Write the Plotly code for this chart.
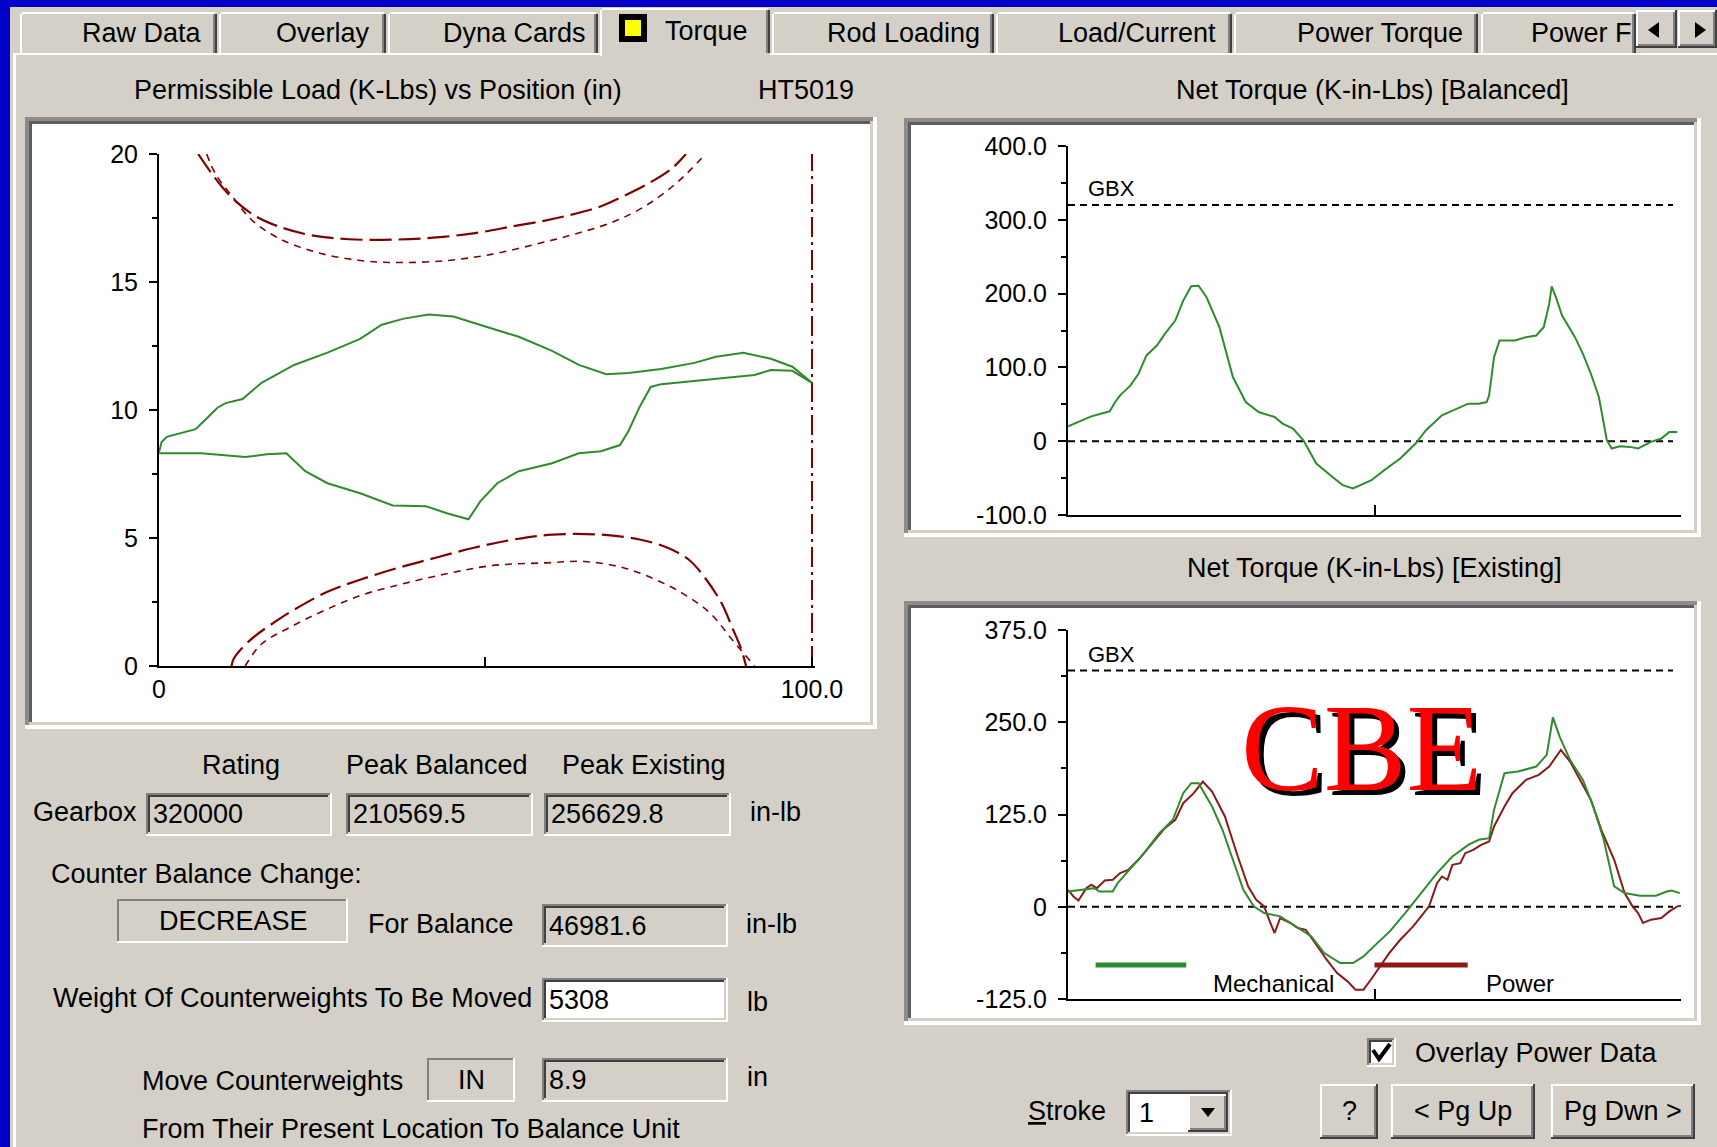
import plotly.graph_objects as go

W, H = 1717, 1147
UI_FONT = "Liberation Sans, Arial, sans-serif"
FONT = "Liberation Sans, Arial, sans-serif"
SERIF = "Liberation Serif, Times New Roman, serif"
FACE = "#D4D0C8"
DESKTOP = "#0000C8"
GREEN = "#2E8B2E"
MAROON = "#800000"
POWER_RED = "#8B1A1A"

# ---------------- data ----------------
# Dynamometer card: load (K-lbs) vs polished-rod position (in)
card_up_pos = [0, 0.4, 1.2, 5.6, 6.9, 9.0, 10.2, 12.8, 15.7, 20.7, 25.8, 30.8, 34.1, 37.5, 41.3,
               45.1, 50.1, 55.1, 60.2, 64.3, 68.5, 71.9, 76.9, 82.0, 85.3, 89.5, 93.7, 97.0, 100]
card_up_load = [8.35, 8.75, 8.95, 9.25, 9.57, 10.1, 10.27, 10.43, 11.06, 11.76, 12.24, 12.78, 13.33,
                13.57, 13.73, 13.65, 13.25, 12.86, 12.31, 11.76, 11.4, 11.45, 11.6, 11.84, 12.08,
                12.24, 12.0, 11.69, 11.06]
card_dn_pos = [0, 6.5, 13.2, 16.5, 19.5, 22.4, 25.8, 30.8, 35.8, 40.9, 44.2, 47.4, 49.2, 51.8, 55.1,
               60.2, 64.3, 67.7, 70.6, 71.9, 73.6, 75.3, 76.9, 82.0, 87.8, 91.2, 93.7, 97.0, 100]
card_dn_load = [8.31, 8.31, 8.16, 8.27, 8.31, 7.61, 7.14, 6.75, 6.27, 6.24, 5.96, 5.73, 6.43, 7.14,
                7.61, 7.92, 8.31, 8.39, 8.63, 9.18, 10.12, 10.9, 11.01, 11.14, 11.29, 11.37, 11.56,
                11.53, 11.06]

# Permissible load envelope (gearbox limits)
max_load_pos = [6.0, 7.7, 9.8, 11.9, 14.8, 18.2, 23.2, 29.1, 36.7, 42.5, 48.4, 54.3, 59.3, 63.5,
                67.7, 71.1, 75.3, 78.6, 80.7]
max_load = [20.0, 19.37, 18.67, 18.12, 17.57, 17.18, 16.83, 16.67, 16.66, 16.74, 16.91, 17.18,
            17.41, 17.65, 17.96, 18.35, 18.9, 19.45, 20.0]
max_load_bal_pos = [7.3, 8.7, 11.2, 14.3, 18.4, 24.1, 30.8, 36.7, 44.2, 50.9, 57.6, 63.5, 69.4,
                    74.4, 79.4, 83.7]
max_load_bal = [20.0, 19.2, 18.35, 17.4, 16.7, 16.16, 15.84, 15.76, 15.84, 16.08, 16.47, 16.86,
                17.33, 17.96, 18.9, 20.0]
min_load_pos = [11.1, 11.5, 14.0, 17.8, 20.7, 25.8, 30.8, 36.7, 42.5, 48.4, 54.3, 60.2, 67.7, 73.6,
                77.8, 81.1, 83.6, 86.2, 87.8, 89.1, 89.9]
min_load = [0.0, 0.31, 1.02, 1.73, 2.2, 2.9, 3.37, 3.84, 4.24, 4.63, 4.94, 5.13, 5.13, 4.94, 4.63,
            4.16, 3.45, 2.43, 1.49, 0.71, 0.0]
min_load_bal_pos = [13.2, 15.7, 19.9, 24.9, 30.8, 37.5, 44.2, 50.9, 59.3, 65.2, 71.1, 76.1, 80.3,
                    84.5, 87.8, 91.2]
min_load_bal = [0.0, 0.86, 1.49, 2.12, 2.75, 3.22, 3.61, 3.92, 4.03, 4.08, 3.84, 3.37, 2.82, 2.04,
                1.02, 0.0]
stroke_length = 100.0
load_axis_max = 20

# Net torque (K-in-lbs) vs percent of stroke
bal_pct = [0, 3.0, 3.8, 6.8, 7.7, 8.5, 10.2, 11.5, 12.8, 14.5, 15.8, 17.5, 18.8, 20.1, 21.3, 22.6,
           24.7, 26.9, 29.0, 31.1, 33.7, 35.0, 36.7, 38.4, 40.5, 43.1, 44.8, 46.5, 48.2, 49.5, 51.6,
           54.2, 56.7, 58.4, 61.0, 63.6, 65.3, 67.0, 68.3, 68.7, 69.5, 70.4, 72.9, 74.7, 76.4, 77.6,
           78.5, 78.9, 79.6, 80.6, 82.7, 84.0, 85.3, 86.6, 87.9, 88.7, 90.0, 91.7, 93.0, 95.1, 96.8,
           98.1, 99.4]
bal_torque = [20.2, 30.6, 33.7, 40.5, 53.1, 62.1, 75.6, 91.4, 116.2, 129.7, 145.5, 163.5, 190.5,
              209.9, 210.5695, 195.0, 154.5, 86.9, 53.1, 39.6, 32.8, 23.8, 17.1, 1.3, -30.2, -48.2,
              -59.5, -64.0, -57.3, -52.8, -39.2, -23.5, -3.2, 14.9, 35.1, 44.1, 50.9, 50.9, 53.1,
              62.1, 113.9, 136.5, 136.5, 141.0, 143.2, 154.5, 186.0, 209.8, 195.0, 170.2, 141.0,
              118.4, 91.4, 59.9, 1.3, -9.9, -6.8, -7.7, -9.9, -0.9, 3.6, 12.6, 12.6]

mech_pct = [0, 2.6, 4.3, 5.1, 7.3, 8.1, 9.8, 12.4, 14.9, 17.1, 18.8, 20.1, 21.3, 23.5, 25.2, 26.9,
            28.6, 30.3, 32.0, 34.6, 37.1, 39.7, 41.8, 44.4, 46.5, 48.2, 49.9, 52.5, 55.0, 57.6,
            60.2, 62.7, 65.3, 67.0, 68.7, 69.5, 71.2, 73.4, 76.4, 78.1, 79.1, 80.2, 81.9, 84.0,
            85.7, 87.4, 89.1, 90.8, 93.3, 95.9, 97.7, 98.5, 99.8]
mech_torque = [20.7, 23.0, 25.2, 20.7, 20.7, 32.0, 47.8, 72.6, 99.7, 117.8, 153.9, 167.4, 167.4,
               135.8, 104.3, 63.7, 23.0, 0.5, -8.5, -13.0, -26.7, -40.2, -62.8, -76.3, -76.3,
               -67.3, -53.7, -33.4, -8.6, 18.5, 45.6, 68.1, 83.9, 90.7, 93.0, 131.3, 181.0, 183.2,
               190.0, 205.8, 256.6298, 230.6, 199.0, 171.9, 135.8, 90.7, 27.5, 18.5, 15.0, 15.0,
               20.7, 22.0, 18.5]

power_pct = [0, 0.9, 1.7, 3.0, 3.8, 4.7, 6.0, 7.3, 8.5, 9.8, 11.5, 13.7, 15.8, 17.5, 18.8, 20.5,
             22.0, 23.5, 25.6, 27.7, 29.4, 30.7, 32.0, 32.8, 33.7, 34.6, 36.3, 37.5, 38.8, 40.5,
             42.2, 43.9, 45.6, 46.9, 48.2, 49.4, 50.7, 52.4, 54.2, 56.3, 57.6, 58.9, 60.2, 61.0,
             61.9, 62.7, 64.0, 64.8, 66.1, 67.4, 68.7, 69.5, 71.2, 72.5, 74.7, 76.8, 78.5, 80.4,
             81.9, 83.2, 85.3, 87.0, 89.1, 90.8, 92.1, 93.0, 93.8, 95.1, 96.8, 98.1, 99.4, 100]
power_torque = [23, 14, 8.5, 25.2, 29.8, 25.2, 35.6, 36.5, 45.6, 50, 63.6, 86.2, 106.5, 117.8,
                140.3, 153.9, 169.7, 156.1, 122.3, 68.1, 27.5, 9.5, 0.5, -17.5, -35.6, -15.3, -22,
                -28.9, -31.2, -51.5, -71.8, -89.8, -101.1, -112.4, -112.4, -98.9, -83.1, -62.8,
                -44.7, -26.6, -13.1, 0.5, 32, 41, 36.5, 56.8, 59.1, 72.6, 77.1, 83.9, 88.4, 108.8,
                135.8, 153.9, 172, 178.7, 190, 212.5, 196.7, 176.4, 144.8, 104.3, 63.6, 18.5, 0.5,
                -8.5, -22, -17.5, -15.3, -6.3, 0.5, 1.4]

gearbox_rating = 320000      # in-lb
balance_change = 46981.6     # in-lb
counterweight_lb = 5308
counterweight_move_in = 8.9
stroke_number = 1

load_ticks = [0, 5, 10, 15, 20]
bal_ticks = [-100, 0, 100, 200, 300, 400]
bal_tick_text = ["-100.0", "0", "100.0", "200.0", "300.0", "400.0"]
exist_ticks = [-125, 0, 125, 250, 375]
exist_tick_text = ["-125.0", "0", "125.0", "250.0", "375.0"]

tabs = ["Raw Data", "Overlay", "Dyna Cards", "Torque", "Rod Loading", "Load/Current",
        "Power Torque", "Power F"]

# ---------------- drawing helpers (pixel -> paper) ----------------
def fx(px):
    return px / W


def fy(py):
    return 1 - py / H


shapes, notes = [], []


def rect(x0, y0, x1, y1, fill, layer="below"):
    shapes.append(dict(type="rect", xref="paper", yref="paper", x0=fx(x0), x1=fx(x1),
                       y0=fy(y1), y1=fy(y0), fillcolor=fill, line=dict(width=0), layer=layer))


def poly(points, fill=None, color="black", width=0, layer="above"):
    d = "M " + " L ".join(f"{fx(x):.5f},{fy(y):.5f}" for x, y in points)
    if fill:
        d += " Z"
    shapes.append(dict(type="path", xref="paper", yref="paper", path=d,
                       fillcolor=fill or "rgba(0,0,0,0)",
                       line=dict(color=color, width=width), layer=layer))


def text(x, y, s, size=27, anchor="left", font=UI_FONT, color="black"):
    notes.append(dict(xref="paper", yref="paper", x=fx(x), y=fy(y), text=s, showarrow=False,
                      xanchor=anchor, yanchor="middle",
                      font=dict(family=font, size=size, color=color)))


def sunken(x0, y0, x1, y1, fill, t1=2, t2=2, dark1="#808080", dark2="#404040"):
    rect(x0, y0, x1, y1, "#FFFFFF")
    rect(x0, y0, x1 - t1, y1 - t1, dark1)
    rect(x0 + t1, y0 + t1, x1 - t1, y1 - t1, FACE)
    rect(x0 + t1, y0 + t1, x1 - t1 - t2, y1 - t1 - t2, dark2)
    rect(x0 + t1 + t2, y0 + t1 + t2, x1 - t1 - t2, y1 - t1 - t2, fill)


def raised(x0, y0, x1, y1):
    rect(x0, y0, x1, y1, "#404040")
    rect(x0, y0, x1 - 2, y1 - 2, "#FFFFFF")
    rect(x0 + 2, y0 + 2, x1 - 2, y1 - 2, "#808080")
    rect(x0 + 2, y0 + 2, x1 - 4, y1 - 4, FACE)


def static_edge(x0, y0, x1, y1):
    rect(x0, y0, x1, y1, "#FFFFFF")
    rect(x0, y0, x1 - 2, y1 - 2, "#808080")
    rect(x0 + 2, y0 + 2, x1 - 2, y1 - 2, FACE)


# ---------------- window chrome ----------------
rect(0, 0, W, 7, DESKTOP)
rect(0, 0, 10, H, DESKTOP)

tab_edges = [(20, 217), (219, 386), (388, 598), (600, 770), (772, 994), (996, 1232),
             (1234, 1478), (1481, 1636)]
tab_text_right = [204, 372, 588, 750, 982, 1218, 1465, 1634]
selected = tabs.index("Torque")
for i, (x0, x1) in enumerate(tab_edges):
    if i == selected:
        continue
    rect(x0, 12, x1, 53, FACE)
    rect(x0, 14, x0 + 2, 53, "#FFFFFF")
    rect(x0 + 2, 12, x1 - 2, 14, "#FFFFFF")
    rect(x1 - 4, 14, x1 - 2, 53, "#808080")
    rect(x1 - 2, 14, x1, 53, "#404040")
# client-area highlight
rect(13, 53, W, 55, "#FFFFFF")
rect(13, 53, 16, H, "#FFFFFF")
sx0, sx1 = tab_edges[selected]
rect(sx0, 8, sx1, 56, FACE)
rect(sx0, 10, sx0 + 2, 56, "#FFFFFF")
rect(sx0 + 2, 8, sx1 - 2, 10, "#FFFFFF")
rect(sx1 - 4, 10, sx1 - 2, 53, "#808080")
rect(sx1 - 2, 10, sx1, 53, "#404040")
rect(619, 14, 647, 42, "#000000")
rect(625, 20, 641, 36, "#FFFF00")
for i, name in enumerate(tabs):
    text(tab_text_right[i], 31 if i == selected else 33, name, anchor="right")

# tab scroll arrows
raised(1636, 10, 1677, 48)
raised(1678, 10, 1717, 48)
poly([(1648, 30), (1659, 22), (1659, 38)], fill="#000000")
poly([(1695, 22), (1695, 38), (1706, 30)], fill="#000000")

# ---------------- chart panels ----------------
def chart_panel(x0, y0, x1, y1):
    sunken(x0, y0, x1, y1, "#FFFFFF", t1=4, t2=3, dark1="#8C8C8C", dark2="#5E5E5E")


chart_panel(25, 117, 877, 729)
chart_panel(904, 118, 1701, 537)
chart_panel(904, 601, 1701, 1025)

text(378, 90, "Permissible Load (K-Lbs) vs Position (in)", anchor="center")
text(806, 90, "HT5019", anchor="center")
text(1372, 90, "Net Torque (K-in-Lbs) [Balanced]", anchor="center")
text(1374, 568, "Net Torque (K-in-Lbs) [Existing]", anchor="center")

# ---------------- gearbox summary form ----------------
peak_bal = max(bal_torque) * 1000
peak_exist = max(mech_torque) * 1000

text(241, 765, "Rating", anchor="center")
text(437, 765, "Peak Balanced", anchor="center")
text(644, 765, "Peak Existing", anchor="center")
text(31, 812, "Gearbox")
for (bx0, bx1), val in zip([(146, 332), (346, 533), (544, 731)],
                           [f"{gearbox_rating}", f"{peak_bal:.1f}", f"{peak_exist:.1f}"]):
    sunken(bx0, 793, bx1, 836, FACE)
    text(bx0 + 5, 814, val)
text(748, 812, "in-lb")

text(49, 874, "Counter Balance Change:")
static_edge(117, 899, 348, 943)
text(233, 921, "DECREASE", anchor="center")
text(441, 924, "For Balance", anchor="center")
sunken(542, 904, 728, 947, FACE)
text(547, 926, f"{balance_change:.1f}")
text(744, 924, "in-lb")

text(534, 998, "Weight Of Counterweights To Be Moved", anchor="right")
sunken(542, 978, 728, 1022, "#FFFFFF")
text(547, 1000, f"{counterweight_lb}")
text(745, 1002, "lb")

text(140, 1081, "Move Counterweights")
static_edge(427, 1058, 515, 1102)
text(471, 1080, "IN", anchor="center")
sunken(542, 1058, 728, 1102, FACE)
text(547, 1080, f"{counterweight_move_in}")
text(745, 1077, "in")
text(140, 1129, "From Their Present Location To Balance Unit")

# ---------------- bottom-right controls ----------------
sunken(1367, 1038, 1396, 1067, "#FFFFFF")
poly([(1373, 1050), (1379, 1059), (1390, 1044)], color="#000000", width=4)
text(1413, 1053, "Overlay Power Data")

text(1026, 1111, "<u>S</u>troke")
sunken(1126, 1090, 1232, 1136, "#FFFFFF")
raised(1188, 1094, 1228, 1132)
poly([(1201, 1108), (1215, 1108), (1208, 1117)], fill="#000000")
text(1137, 1113, f"{stroke_number}")

for (bx0, bx1), label in zip([(1320, 1378), (1391, 1535), (1551, 1695)],
                             ["?", "&lt; Pg Up", "Pg Dwn &gt;"]):
    raised(bx0, 1084, bx1, 1139)
    text((bx0 + bx1) / 2, 1111, label, anchor="center")

# ---------------- traces ----------------
fig = go.Figure()
line_w = 2


def add(x, y, xa, ya, color, width=line_w, dash="solid", shape="linear"):
    fig.add_trace(go.Scatter(x=x, y=y, xaxis=xa, yaxis=ya, mode="lines", hoverinfo="skip",
                             line=dict(color=color, width=width, dash=dash, shape=shape)))


add(max_load_pos, max_load, "x", "y", MAROON, 2.2, "22px,7px", "spline")
add(max_load_bal_pos, max_load_bal, "x", "y", MAROON, 1.6, "7px,6px", "spline")
add(min_load_pos, min_load, "x", "y", MAROON, 2.2, "22px,7px", "spline")
add(min_load_bal_pos, min_load_bal, "x", "y", MAROON, 1.6, "7px,6px", "spline")
add([stroke_length, stroke_length], [0, load_axis_max], "x", "y", MAROON, 2, "20px,5px,3px,5px")
add(card_up_pos, card_up_load, "x", "y", GREEN)
add(card_dn_pos, card_dn_load, "x", "y", GREEN)

gbx = gearbox_rating / 1000
ref_end = 98.7
for xa, ya in (("x2", "y2"), ("x3", "y3")):
    for level in (gbx, 0):
        add([0, ref_end], [level, level], xa, ya, "#000000", 2, "7px,5px")
    notes.append(dict(xref=xa, yref=ya, x=7.1, y=342, text="GBX", showarrow=False,
                      font=dict(family=FONT, size=22, color="black")))

add(bal_pct, bal_torque, "x2", "y2", GREEN)
add(power_pct, power_torque, "x3", "y3", POWER_RED)
add(mech_pct, mech_torque, "x3", "y3", GREEN)

# legend swatches for the existing-torque chart
for (lx0, lx1), color, label, tx in (((4.5, 19.3), GREEN, "Mechanical", 33.6),
                                     ((50.0, 65.2), POWER_RED, "Power", 73.8)):
    shapes.append(dict(type="line", xref="x3", yref="y3", x0=lx0, x1=lx1, y0=-79, y1=-79,
                       line=dict(color=color, width=5), layer="above"))
    notes.append(dict(xref="x3", yref="y3", x=tx, y=-104, text=label, showarrow=False,
                      font=dict(family=FONT, size=24, color="black")))

# watermark with a hard drop shadow
notes.append(dict(xref="paper", yref="paper", x=fx(1361), y=fy(748), text="CBE",
                  showarrow=False, xanchor="center", yanchor="middle",
                  font=dict(family=SERIF, size=124, color="#FF0000",
                            shadow="5px 5px 0px #000000")))

# ---------------- axes ----------------
axis_style = dict(showgrid=False, zeroline=False, showline=True, linecolor="black", linewidth=2,
                  tickcolor="black", tickwidth=2, fixedrange=True, automargin=False,
                  tickfont=dict(family=FONT, size=25, color="black"))

fig.update_layout(
    width=W, height=H, autosize=False, margin=dict(l=0, r=0, t=0, b=0, pad=0),
    paper_bgcolor=FACE, plot_bgcolor="rgba(0,0,0,0)", showlegend=False,
    shapes=shapes, annotations=notes,
    xaxis=dict(domain=[fx(159), fx(814.6)], range=[0, 100.4], anchor="y",
               tickvals=[0, 50, 100], ticktext=["0", "", "100.0"], ticks="inside", ticklen=9,
               **axis_style),
    yaxis=dict(domain=[fy(666), fy(154)], range=[0, load_axis_max], anchor="x",
               tickvals=load_ticks, ticktext=[str(v) for v in load_ticks], ticks="outside",
               ticklen=8, ticklabelstandoff=6,
               minor=dict(tickvals=[2.5, 7.5, 12.5, 17.5], ticks="outside", ticklen=5,
                          tickcolor="black", tickwidth=2),
               **axis_style),
    xaxis2=dict(domain=[fx(1068), fx(1681)], range=[0, 100], anchor="y2",
                tickvals=[50, 100], showticklabels=False, ticks="inside", ticklen=10,
                **axis_style),
    yaxis2=dict(domain=[fy(515), fy(146)], range=[-100, 400], anchor="x2",
                tickvals=bal_ticks, ticktext=bal_tick_text, ticks="outside", ticklen=8,
                ticklabelstandoff=6,
                minor=dict(tickvals=[-50, 50, 150, 250, 350], ticks="outside", ticklen=5,
                           tickcolor="black", tickwidth=2),
                **axis_style),
    xaxis3=dict(domain=[fx(1068), fx(1681)], range=[0, 100], anchor="y3",
                tickvals=[50, 100], showticklabels=False, ticks="inside", ticklen=10,
                **axis_style),
    yaxis3=dict(domain=[fy(999), fy(630)], range=[-125, 375], anchor="x3",
                tickvals=exist_ticks, ticktext=exist_tick_text, ticks="outside", ticklen=8,
                ticklabelstandoff=6,
                minor=dict(tickvals=[-62.5, 62.5, 187.5, 312.5], ticks="outside", ticklen=5,
                           tickcolor="black", tickwidth=2),
                **axis_style),
)

fig.write_html("out.html", config={"displayModeBar": False},
               post_script="document.body.style.margin='0';document.body.style.overflow='hidden';")
